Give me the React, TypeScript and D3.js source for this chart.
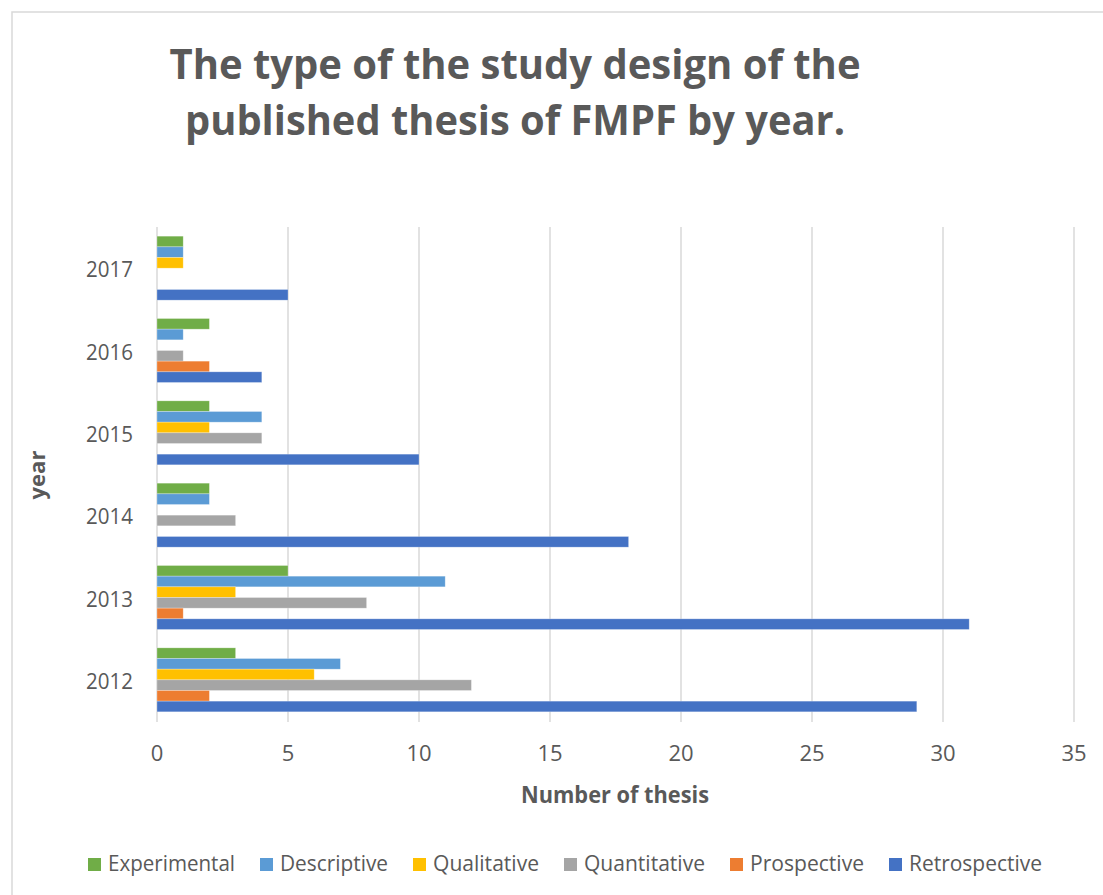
import React from "react";
import * as d3 from "d3";

const years = ["2017", "2016", "2015", "2014", "2013", "2012"];
const seriesNames = ["Experimental", "Descriptive", "Qualitative", "Quantitative", "Prospective", "Retrospective"];
const seriesColors = ["#70AD47", "#5B9BD5", "#FFC000", "#A5A5A5", "#ED7D31", "#4472C4"];
// values per year, order follows `years`
const experimental = [1, 2, 2, 2, 5, 3];
const descriptive = [1, 1, 4, 2, 11, 7];
const qualitative = [1, 0, 2, 0, 3, 6];
const quantitative = [0, 1, 4, 3, 8, 12];
const prospective = [0, 2, 0, 0, 1, 2];
const retrospective = [5, 4, 10, 18, 31, 29];
const xTicks = [0, 5, 10, 15, 20, 25, 30, 35];
const titleLines = ["The type of the study design of the", "published thesis of FMPF by year."];
const legendWidths = [127, 108, 106, 121, 114, 133];

const W = 1103;
const H = 895;
const TXT = "#595959";
const FONT = "'Open Sans', 'Noto Sans', sans-serif";

export default function App() {
  const seriesValues = [experimental, descriptive, qualitative, quantitative, prospective, retrospective];
  const x = d3.scaleLinear().domain([0, 35]).range([157, 1074]);
  const y0 = d3.scaleBand().domain(years).range([227, 721]).paddingInner(0.223).paddingOuter(0.1115);
  const y1 = d3.scaleBand().domain(seriesNames).range([0, y0.bandwidth()]);

  // legend spread between left and right edges
  const legL = 88, legR = 1042, sw = 13, sGap = 7;
  const used = d3.sum(legendWidths) + seriesNames.length * (sw + sGap);
  const itemGap = (legR - legL - used) / (seriesNames.length - 1);
  let lx = legL;
  const legendItems = seriesNames.map((name, i) => {
    const item = { name, color: seriesColors[i], x: lx };
    lx += sw + sGap + legendWidths[i] + itemGap;
    return item;
  });

  return (
    <svg width={W} height={H} style={{ position: "absolute", left: 0, top: 0, background: "#fff" }} fontFamily={FONT}>
      <rect x={12} y={12} width={W} height={H} fill="#fff" stroke="#d9d9d9" strokeWidth={1.5} />
      {titleLines.map((t, i) => (
        <text key={i} x={515} y={79 + i * 56} textAnchor="middle" fontSize={42} fontWeight="bold" fill={TXT}
          textLength={i === 0 ? 691 : 660} lengthAdjust="spacingAndGlyphs">{t}</text>
      ))}
      {xTicks.map((t) => (
        <line key={t} x1={x(t)} x2={x(t)} y1={227} y2={722} stroke="#d9d9d9" strokeWidth={1.5} />
      ))}
      {years.map((yr, yi) => (
        <g key={yr} transform={`translate(0,${y0(yr)})`}>
          {seriesNames.map((s, si) => {
            const v = seriesValues[si][yi];
            if (!v) return null;
            return (
              <rect key={s} x={x(0)} y={y1(s)} width={x(v) - x(0)} height={y1.bandwidth()}
                fill={seriesColors[si]} stroke="#ffffff" strokeOpacity={0.35} strokeWidth={0.75} />
            );
          })}
        </g>
      ))}
      {years.map((yr) => (
        <text key={yr} x={133} y={(y0(yr) as number) + y0.bandwidth() / 2 + 9} textAnchor="end" fontSize={22} fill={TXT}
          textLength={47} lengthAdjust="spacingAndGlyphs">{yr}</text>
      ))}
      {xTicks.map((t) => (
        <text key={t} x={x(t)} y={761} textAnchor="middle" fontSize={22} fill={TXT}>{t}</text>
      ))}
      <text x={615} y={803} textAnchor="middle" fontSize={23} fontWeight="bold" fill={TXT} textLength={188} lengthAdjust="spacingAndGlyphs">Number of thesis</text>
      <text transform="translate(45,475) rotate(-90)" textAnchor="middle" fontSize={22} fontWeight="bold" fill={TXT}>year</text>
      {legendItems.map((it, i) => (
        <g key={it.name} transform={`translate(${it.x},0)`}>
          <rect x={0} y={858} width={sw} height={13} fill={it.color} />
          <text x={sw + sGap} y={871} fontSize={22} fill={TXT} textLength={legendWidths[i]} lengthAdjust="spacingAndGlyphs">{it.name}</text>
        </g>
      ))}
    </svg>
  );
}
